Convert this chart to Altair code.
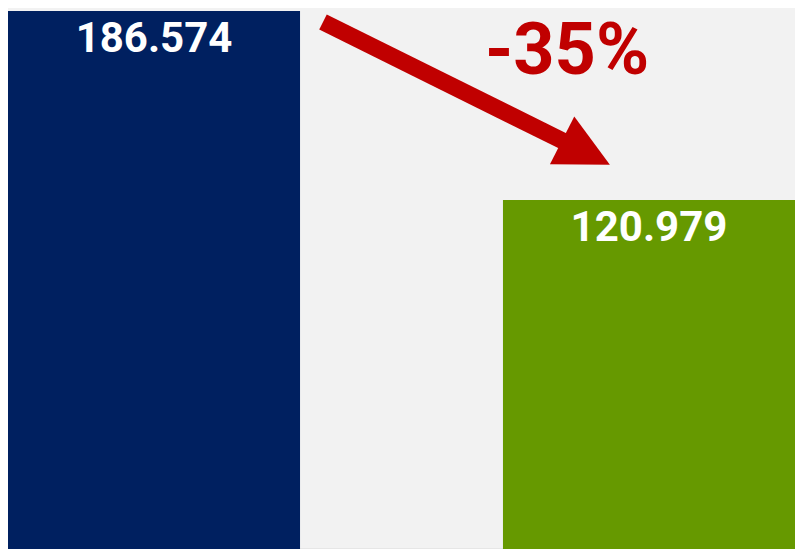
import altair as alt
import pandas as pd

categories = ["Antes", "Después"]
values = [186.574, 120.979]
colors = ["#002060", "#669900"]
change_label = ["-35%"]

df = pd.DataFrame({"cat": categories, "value": values, "color": colors})
note = pd.DataFrame({"t": change_label})

RED = "#C00000"

x = alt.X(
    "cat:N",
    sort=categories,
    scale=alt.Scale(paddingInner=0.41, paddingOuter=0),
    axis=alt.Axis(labels=False, ticks=False, title=None, domainColor="#D9D9D9",
                  domainWidth=2, grid=False),
)
y = alt.Y("value:Q", scale=alt.Scale(domain=[0, 187.6]), axis=None)

bars = alt.Chart(df).mark_bar().encode(
    x=x, y=y, color=alt.Color("color:N", scale=None)
)

labels = alt.Chart(df).mark_text(
    font="Roboto", fontWeight="bold", fontSize=42, color="white",
    baseline="alphabetic", align="center", dy=41,
).encode(x=x, y=y, text=alt.Text("value:Q", format=".3f"))

shaft = alt.Chart(note).mark_rule(color=RED, strokeWidth=17, strokeCap="butt").encode(
    x=alt.value(315), y=alt.value(14), x2=alt.value(559), y2=alt.value(135)
)

head = alt.Chart(note).mark_point(
    shape="M1,0L-1,1L-1,-1Z", filled=True, size=2873, angle=27,
    color=RED, opacity=1, strokeWidth=0,
).encode(x=alt.value(578), y=alt.value(144.5))

pct = alt.Chart(note).mark_text(
    font="Roboto", fontWeight="bold", fontSize=72, color=RED,
    baseline="alphabetic", align="center",
).encode(x=alt.value(559), y=alt.value(66), text="t:N")

chart = alt.layer(bars, labels, shaft, head, pct).properties(
    width=787, height=541,
    autosize=alt.AutoSizeParams(type="fit", contains="padding"),
    padding=0,
    background="#F2F2F2",
).configure_view(stroke=None)

chart.save("out.html", embed_options={"renderer": "svg", "actions": False})
